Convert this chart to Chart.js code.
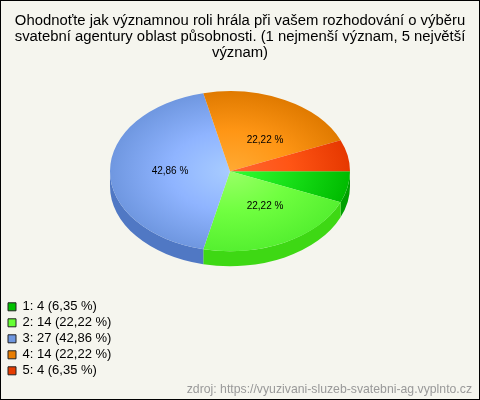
<!DOCTYPE html>
<html>
<head>
<meta charset="utf-8">
<style>
    html, body { margin: 0; padding: 0; background: #f5f5ee; }
    #wrap { width: 480px; height: 400px; }
</style>
<script src="https://cdn.jsdelivr.net/npm/chart.js@4"></script>
</head>
<body>
<div id="wrap"><canvas id="pie" width="480" height="400"></canvas></div>
<script>
const titleLines = [
    "Ohodnoťte jak významnou roli hrála při vašem rozhodování o výběru",
    "svatební agentury oblast působnosti. (1 nejmenší význam, 5 největší",
    "význam)"
];
const sourceText = "zdroj: https://vyuzivani-sluzeb-svatebni-ag.vyplnto.cz";
const categories = ["1", "2", "3", "4", "5"];
const counts = [4, 14, 27, 14, 4];
const labelledSlices = [1, 2, 3];

const innerColors = ["#33ff33", "#99ff66", "#a8ccff", "#ffaa33", "#ff6633"];
const midColors = ["#18e018", "#70ff40", "#8fb4ff", "#ff9615", "#ff5515"];
const outerColors = ["#00bb00", "#55f030", "#6f97e0", "#e07a00", "#e63800"];
const sideColors = ["#00a000", "#3ed814", "#5078c4", "#c06400", "#c03000"];
const boxColors = ["#00c000", "#66ff33", "#6f97e0", "#e97d00", "#e63c00"];

const pieRadius = 120;
const squash = 80 / 120;
const depth = 15;
const shiftX = -10;
const shiftY = -4.5;

const total = counts.reduce((a, b) => a + b, 0);
const pct = v => (v / total * 100).toFixed(2).replace(".", ",") + " %";

// frame round the whole picture
const framePlugin = {
    id: "frame",
    beforeDraw(chart) {
        const c = chart.ctx;
        c.save();
        c.fillStyle = "#f5f5ee";
        c.fillRect(0, 0, chart.width, chart.height);
        c.strokeStyle = "#000";
        c.lineWidth = 1;
        c.strokeRect(0.5, 0.5, chart.width - 1, chart.height - 1);
        c.restore();
    }
};

// one legend entry per row, the legend has no option for that at the bottom
const legendRowsPlugin = {
    id: "legendRows",
    beforeLayout(chart) {
        const legend = chart.legend;
        if (legend.rowsPatched) return;
        const fit = legend.fit;
        legend.fit = function () {
            this.maxWidth = 130;
            fit.call(this);
        };
        legend.rowsPatched = true;
    },
    afterLayout(chart) {
        const legend = chart.legend;
        legend.left = 5;
        legend.right = 135;
        legend.top += 7;
        legend.bottom += 7;
    }
};

// tilts the pie and draws its rim under the slices
const tiltPlugin = {
    id: "tilt",
    beforeDatasetsDraw(chart) {
        const c = chart.ctx;
        const arcs = chart.getDatasetMeta(0).data;
        const cx = arcs[0].x, cy = arcs[0].y;
        c.save();
        c.translate(cx + shiftX, cy + shiftY);
        c.scale(1, squash);
        c.translate(-cx, -cy);
        arcs.forEach((arc, i) => {
            const a = Math.max(arc.startAngle, 0);
            const b = Math.min(arc.endAngle, Math.PI);
            if (b <= a) return;
            const r = arc.outerRadius;
            const d = depth / squash;
            c.beginPath();
            c.arc(cx, cy, r, a, b);
            c.arc(cx, cy + d, r, b, a, true);
            c.closePath();
            c.fillStyle = sideColors[i];
            c.fill();
        });
    },
    afterDatasetsDraw(chart) {
        const c = chart.ctx;
        c.restore();
        const arcs = chart.getDatasetMeta(0).data;
        c.save();
        c.font = "10px 'Liberation Sans'";
        c.fillStyle = "#000";
        c.textAlign = "center";
        c.textBaseline = "middle";
        labelledSlices.forEach(i => {
            const arc = arcs[i];
            const mid = (arc.startAngle + arc.endAngle) / 2;
            const kx = i === 2 ? 0.5 : 0.64;
            const ky = i === 3 ? 0.43 : 0.49;
            const x = arc.x + shiftX + Math.cos(mid) * arc.outerRadius * kx;
            const y = arc.y + shiftY + Math.sin(mid) * arc.outerRadius * squash * ky;
            c.fillText(pct(counts[i]), x, y);
        });
        c.restore();
    }
};

new Chart(document.getElementById("pie").getContext("2d"), {
    type: "pie",
    data: {
        labels: categories,
        datasets: [{
            data: counts,
            borderWidth: 0,
            clip: false,
            radius: pieRadius,
            backgroundColor(context) {
                const area = context.chart.chartArea;
                const i = context.dataIndex;
                if (!area) return boxColors[i];
                const cx = (area.left + area.right) / 2;
                const cy = (area.top + area.bottom) / 2;
                const g = context.chart.ctx.createRadialGradient(cx, cy, 0, cx, cy, pieRadius);
                g.addColorStop(0, innerColors[i]);
                g.addColorStop(0.5, midColors[i]);
                g.addColorStop(1, outerColors[i]);
                return g;
            }
        }]
    },
    options: {
        responsive: false,
        animation: false,
        rotation: 90,
        layout: { padding: { left: 8, right: 8, top: 0, bottom: 3 } },
        plugins: {
            title: {
                display: true,
                text: titleLines,
                color: "#000",
                font: { family: "'Liberation Sans'", size: 14.85, weight: "normal", lineHeight: 1.08 },
                padding: { top: 13, bottom: 0 }
            },
            subtitle: {
                display: true,
                position: "bottom",
                align: "end",
                text: sourceText,
                color: "#999",
                font: { family: "'Liberation Sans'", size: 12.25, weight: "normal" },
                padding: { top: 2, bottom: 0 }
            },
            legend: {
                position: "bottom",
                align: "start",
                labels: {
                    boxWidth: 8,
                    boxHeight: 8,
                    padding: 3,
                    color: "#222",
                    font: { family: "'Liberation Sans'", size: 13 },
                    generateLabels() {
                        return categories.map((name, i) => ({
                            text: `${name}: ${counts[i]} (${pct(counts[i])})`,
                            fillStyle: boxColors[i],
                            strokeStyle: "#222",
                            lineWidth: 1,
                            index: i
                        }));
                    }
                }
            },
            tooltip: { enabled: false }
        }
    },
    plugins: [framePlugin, legendRowsPlugin, tiltPlugin]
});
</script>
</body>
</html>
